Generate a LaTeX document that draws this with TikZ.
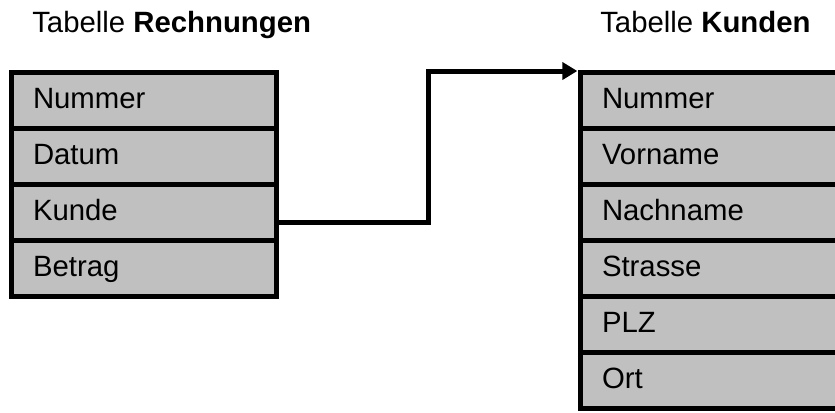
\documentclass[tikz,border=0pt]{standalone}
\usepackage{fontspec}
\setmainfont{Liberation Sans}
\usetikzlibrary{positioning,arrows.meta}

\begin{document}
\begin{tikzpicture}[x=0.75pt, y=-0.75pt,
    field/.style={draw, fill=fieldgray, line width=3.75pt, outer sep=0pt,
      inner xsep=16.5pt, inner ysep=0pt, text width=165.75pt, align=left,
      minimum height=42pt, text height=15.5pt, text depth=3.5pt,
      font=\fontsize{22}{26}\selectfont},
    caption/.style={anchor=base west, inner sep=0pt,
      font=\fontsize{22}{26}\selectfont},
    link/.style={line width=3.75pt, -{Triangle[length=11.25pt,width=12.75pt]}}]

  \definecolor{fieldgray}{HTML}{C0C0C0}
  \useasboundingbox (0,0) rectangle (835,412);

  % Fields of table Rechnungen
  \node[field, anchor=north west] (r1) at (11,72) {Nummer};
  \node[field, below=0pt of r1] (r2) {Datum};
  \node[field, below=0pt of r2] (r3) {Kunde};
  \node[field, below=0pt of r3] (r4) {Betrag};

  % Fields of table Kunden
  \node[field, anchor=north west] (k1) at (580,72) {Nummer};
  \node[field, below=0pt of k1] (k2) {Vorname};
  \node[field, below=0pt of k2] (k3) {Nachname};
  \node[field, below=0pt of k3] (k4) {Strasse};
  \node[field, below=0pt of k4] (k5) {PLZ};
  \node[field, below=0pt of k5] (k6) {Ort};

  % Table names
  \node[caption] (tr) at (32,32) {Tabelle \textbf{Rechnungen}};
  \node[caption] (tk) at (600,32) {Tabelle \textbf{Kunden}};

  % Foreign key Kunde -> Kunden.Nummer
  \coordinate (knick) at (428,71);
  \draw[link, shorten >=2pt] ([yshift=-7.5pt]r3.east) -| (knick) -- (knick -| k1.west);

\end{tikzpicture}
\end{document}
